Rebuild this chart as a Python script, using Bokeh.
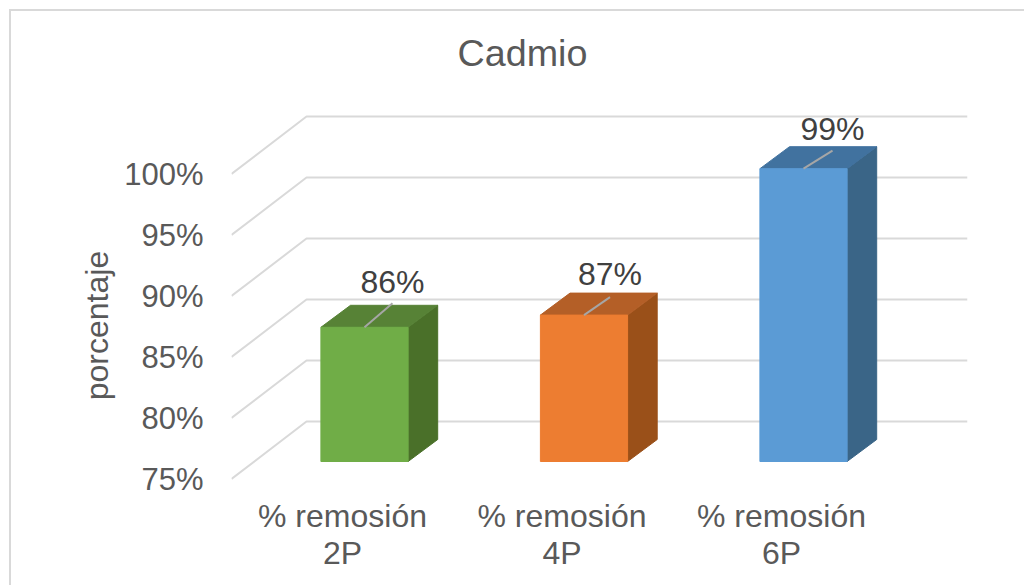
from bokeh.embed import file_html
from bokeh.resources import INLINE
from bokeh.plotting import figure
from bokeh.models import Range1d, LinearAxis, FixedTicker, NumeralTickFormatter
from bokeh.core.properties import value

categories = ["% remosión\n2P", "% remosión\n4P", "% remosión\n6P"]
values = [86, 87, 99]
tick_values = [75, 80, 85, 90, 95, 100]
value_labels = ["86%", "87%", "99%"]
front_colors = ["#70ad47", "#ed7d31", "#5b9bd5"]
top_colors = ["#578236", "#b45f27", "#41729f"]
side_colors = ["#4a7029", "#9a5019", "#3a6587"]

FONT = "Liberation Sans"
W, H = 1024, 585
L, R, T, B = 231, 967, 74, 576          # frame edges in page pixels
PX_X = 219.5                            # pixels per category
PX_Y = 12.2                             # pixels per percentage point
ZERO_PX = 364                           # page pixel of category 0 centre
Y_FRONT = 478.5                         # page pixel of 75 % on the front wall edge

x_start = -(ZERO_PX - L) / PX_X
x_end = x_start + (R - L) / PX_X
y_start = 75 - (B - Y_FRONT) / PX_Y
y_end = 75 + (Y_FRONT - T) / PX_Y

# chart border: left and top edges only, painted behind the transparent canvas
border = "linear-gradient(#d9d9d9, #d9d9d9)"
p = figure(width=W, height=H, output_backend="svg", toolbar_location=None,
           x_range=Range1d(x_start, x_end), y_range=Range1d(y_start, y_end),
           x_axis_type=None, y_axis_type=None,
           min_border_left=L, min_border_right=W - R, min_border_top=T, min_border_bottom=H - B,
           background_fill_color=None, border_fill_color=None, outline_line_color=None,
           styles={"background-color": "white",
                   "background-image": f"{border}, {border}",
                   "background-size": f"2px {H - 9}px, {W - 9}px 2px",
                   "background-position": "9px 9px, 9px 9px",
                   "background-repeat": "no-repeat"})
p.grid.visible = False

# axes
yax = LinearAxis(ticker=FixedTicker(ticks=tick_values),
                 formatter=NumeralTickFormatter(format="0"),
                 major_label_overrides={t: f"{t}%" for t in tick_values},
                 axis_line_color=None, major_tick_line_color=None, minor_tick_line_color=None,
                 major_label_text_font=FONT, major_label_text_font_size="31px",
                 major_label_text_color="#595959", major_label_standoff=22,
                 axis_label="porcentaje", axis_label_text_font=FONT,
                 axis_label_text_font_size="32px", axis_label_text_font_style="normal",
                 axis_label_text_color="#595959", axis_label_standoff=6)
p.add_layout(yax, "left")

label_shift = -22 / PX_X
x_ticks = [i + label_shift for i in range(len(categories))]
xax = LinearAxis(fixed_location=75, ticker=FixedTicker(ticks=x_ticks),
                 major_label_overrides=dict(zip(x_ticks, categories)),
                 axis_line_color=None, major_tick_line_color=None, minor_tick_line_color=None,
                 major_label_text_font=FONT, major_label_text_font_size="32px",
                 major_label_text_color="#595959", major_label_standoff=13,
                 major_label_text_align="center", major_label_text_line_height=1.02)
p.add_layout(xax, "below")

# title
p.title.text = "Cadmio"
p.title.align = "left"
p.title.offset = 226
p.title.text_font = FONT
p.title.text_font_size = "37.7px"
p.title.text_font_style = "normal"
p.title.text_color = "#595959"
p.title.standoff = 1

# walls
wall_dx = 75 / PX_X
wall_dy = 57.5 / PX_Y
gx = [[x_start, x_start + wall_dx, x_end] for _ in tick_values]
gy = [[t, t + wall_dy, t + wall_dy] for t in tick_values]
p.multi_line(gx, gy, line_color="#d9d9d9", line_width=2)

# 3-D bars
half = 43.6 / PX_X
dx = 29.6 / PX_X
dy = 22 / PX_Y
base_up = 17.5 / PX_Y
lift = 75 + base_up
for i, v in enumerate(values):
    x0, x1 = i - half, i + half
    y0, y1 = lift, v + base_up
    p.patch([x1, x1 + dx, x1 + dx, x1], [y0, y0 + dy, y1 + dy, y1],
            fill_color=side_colors[i], line_color=side_colors[i], line_width=1)
    p.patch([x0, x1, x1 + dx, x0 + dx], [y1, y1, y1 + dy, y1 + dy],
            fill_color=top_colors[i], line_color=top_colors[i], line_width=1)
    p.patch([x0, x1, x1, x0], [y0, y0, y1, y1],
            fill_color=front_colors[i], line_color=front_colors[i], line_width=1)

# data labels with leader lines (layout offsets in pixels, per bar)
lead_dx_px = [28, 26, 29]
lead_dy_px = [24, 18, 18]
label_up_px = [45, 41, 40]
for i, v in enumerate(values):
    p.line([i, i + lead_dx_px[i] / PX_X],
           [v + base_up, v + base_up + lead_dy_px[i] / PX_Y],
           line_color="#a6a6a6", line_width=2)
p.text([i + lead_dx_px[i] / PX_X for i in range(3)],
       [v + base_up + label_up_px[i] / PX_Y for i, v in enumerate(values)],
       text=value_labels, text_font=value(FONT), text_font_size="32px",
       text_color="#404040", text_align="center", text_baseline="middle")

open("out.html", "w").write(file_html(p, INLINE))
